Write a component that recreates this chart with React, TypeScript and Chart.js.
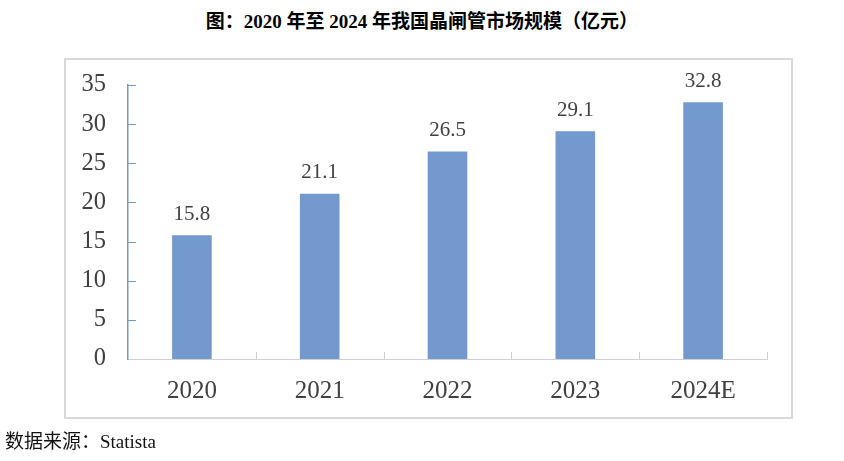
import React, { useEffect, useRef } from "react";
import { Chart, registerables } from "chart.js";

Chart.register(...registerables);

const categories = ["2020", "2021", "2022", "2023", "2024E"];
const marketSize = [15.8, 21.1, 26.5, 29.1, 32.8];
const yMin = 0;
const yMax = 35;
const yStep = 5;
const titleText = "图：2020 年至 2024 年我国晶闸管市场规模（亿元）";
const sourceText = "数据来源：Statista";

const W = 844;
const H = 461;
const BAR_COLOR = "#7399CE";
const TEXT_COLOR = "#404040";
const SERIF = '"Liberation Serif", "Times New Roman", "Noto Sans CJK SC", serif';

const decorPlugin = {
  id: "decor",
  afterDraw(chart: any) {
    const ctx = chart.ctx;
    const x = chart.scales.x;
    const y = chart.scales.y;
    ctx.save();
    // inward y ticks
    ctx.strokeStyle = BAR_COLOR;
    ctx.lineWidth = 1;
    y.ticks.forEach((t: any) => {
      if (t.value === yMin) return;
      const py = Math.round(y.getPixelForValue(t.value)) + 0.5;
      ctx.beginPath();
      ctx.moveTo(x.left, py);
      ctx.lineTo(x.left + 8, py);
      ctx.stroke();
    });
    // upward x ticks at category boundaries
    ctx.strokeStyle = "#d0d0d0";
    const n = categories.length;
    for (let k = 1; k <= n; k++) {
      const px = Math.round(x.left + ((x.right - x.left) * k) / n) + 0.5;
      ctx.beginPath();
      ctx.moveTo(px, y.bottom);
      ctx.lineTo(px, y.bottom - 7);
      ctx.stroke();
    }
    // data labels
    ctx.fillStyle = TEXT_COLOR;
    ctx.font = `21px ${SERIF}`;
    ctx.textAlign = "center";
    ctx.textBaseline = "middle";
    const meta = chart.getDatasetMeta(0);
    meta.data.forEach((bar: any, i: number) => {
      ctx.fillText(String(marketSize[i]), bar.x, bar.y - 21);
    });
    ctx.restore();
  },
};

export default function App() {
  const ref = useRef<HTMLCanvasElement | null>(null);

  useEffect(() => {
    if (!ref.current) return;
    const chart = new Chart(ref.current, {
      type: "bar",
      data: {
        labels: categories,
        datasets: [
          {
            data: marketSize,
            backgroundColor: BAR_COLOR,
            borderWidth: 0,
            barPercentage: 0.31,
            categoryPercentage: 1,
          },
        ],
      },
      options: {
        responsive: false,
        animation: false,
        devicePixelRatio: 1,
        layout: { padding: { left: 0, right: 77, top: 85, bottom: 0 } },
        plugins: {
          legend: { display: false },
          title: { display: false },
          tooltip: { enabled: false },
        },
        scales: {
          x: {
            offset: true,
            grid: { display: false, drawTicks: false },
            border: { display: true, color: "#d0d0d0", width: 1 },
            ticks: {
              color: TEXT_COLOR,
              font: { family: SERIF, size: 25 },
              padding: 17,
              maxRotation: 0,
            },
            afterFit: (s: any) => {
              s.height = 102;
            },
          },
          y: {
            min: yMin,
            max: yMax,
            grid: { display: false, drawTicks: false },
            border: { display: true, color: BAR_COLOR, width: 1.5 },
            ticks: {
              stepSize: yStep,
              color: TEXT_COLOR,
              font: { family: SERIF, size: 24.5 },
              padding: 22,
            },
            afterFit: (s: any) => {
              s.width = 128;
            },
          },
        },
      },
      plugins: [decorPlugin],
    });
    return () => chart.destroy();
  }, []);

  return (
    <div
      style={{
        position: "fixed",
        left: 0,
        top: 0,
        width: W,
        height: H,
        background: "#ffffff",
        overflow: "hidden",
      }}
    >
      <div
        style={{
          position: "absolute",
          left: 0,
          top: 9,
          width: W,
          textAlign: "center",
          fontFamily: SERIF,
          fontWeight: "bold",
          fontSize: 19,
          lineHeight: "26px",
          color: "#000000",
        }}
      >
        {titleText}
      </div>
      <div
        style={{
          position: "absolute",
          left: 64,
          top: 58,
          width: 729,
          height: 361,
          boxSizing: "border-box",
          border: "2px solid #d9d9d9",
        }}
      />
      <canvas
        ref={ref}
        width={W}
        height={H}
        style={{ position: "absolute", left: 0, top: 0, width: W, height: H }}
      />
      <div
        style={{
          position: "absolute",
          left: 5,
          top: 430,
          fontFamily: SERIF,
          fontSize: 19,
          lineHeight: "24px",
          color: "#111111",
          whiteSpace: "nowrap",
        }}
      >
        {sourceText}
      </div>
    </div>
  );
}
